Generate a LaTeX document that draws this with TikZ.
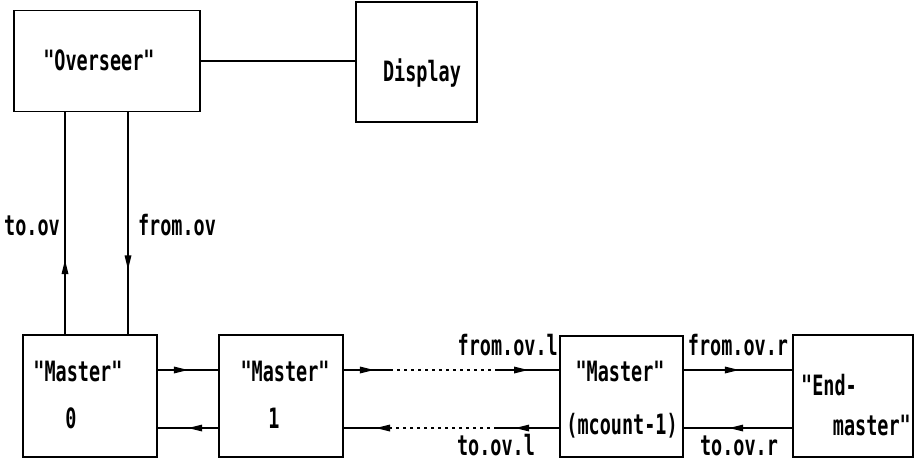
\documentclass[tikz,border=0pt]{standalone}
\usepackage{fontspec}
\newfontfamily\plotfont[FakeStretch=0.66]{DejaVu Sans Mono Bold}
\usetikzlibrary{decorations.markings}

\tikzset{
  box/.style={draw, line width=1.6pt, inner sep=0pt},
  wire/.style={line width=1.6pt},
  dotwire/.style={line width=1.6pt, dash pattern=on 3pt off 4pt},
  midarrow/.style={postaction={decorate, decoration={markings,
      mark=at position #1 with {\fill (1pt,0pt) -- (-13pt,3.5pt) -- (-13pt,-3.5pt) -- cycle;}}}},
  txt/.style={inner sep=0pt, font=\plotfont\fontsize{28}{32}\selectfont},
}

\begin{document}
\begin{tikzpicture}[x=1pt, y=-1pt]
  \useasboundingbox (0,0) rectangle (920,467);

  % boxes
  \node[box, minimum width=186pt, minimum height=101pt] (ov)   at (107,61) {};
  \node[box, minimum width=121pt, minimum height=120pt] (disp) at (416.5,62) {};
  \node[box, minimum width=134pt, minimum height=122pt] (m0)   at (90,396) {};
  \node[box, minimum width=124pt, minimum height=122pt] (m1)   at (281,396) {};
  \node[box, minimum width=123pt, minimum height=121pt] (mc)   at (621.5,396.5) {};
  \node[box, minimum width=120pt, minimum height=122pt] (end)  at (853,396) {};

  % texts
  \node[txt, anchor=base] (tov)   at (99,70)   {"Overseer"};
  \node[txt, anchor=base] (tdisp) at (422,81)  {Display};
  \node[txt, anchor=base] (lto)   at (32,235)  {to.ov};
  \node[txt, anchor=base] (lfrom) at (177,235) {from.ov};
  \node[txt, anchor=base] (t0a)   at (78,381)  {"Master"};
  \node[txt, anchor=base] (t0b)   at (71,428)  {0};
  \node[txt, anchor=base] (t1a)   at (285,381) {"Master"};
  \node[txt, anchor=base] (t1b)   at (274,428) {1};
  \node[txt, anchor=base] (tca)   at (620,381) {"Master"};
  \node[txt, anchor=base] (tcb)   at (622,434) {(mcount-1)};
  \node[txt, anchor=base west] (tea) at (801,395) {"End-};
  \node[txt, anchor=base east] (teb) at (911,435) {master"};
  \node[txt, anchor=base east] (lfl) at (558,355) {from.ov.l};
  \node[txt, anchor=base] (ltl)   at (496,455) {to.ov.l};
  \node[txt, anchor=base] (lfr)   at (738,355) {from.ov.r};
  \node[txt, anchor=base] (ltr)   at (739,455) {to.ov.r};

  % reference coordinates for the wires
  \coordinate (xa) at (65,0);
  \coordinate (xb) at (128,0);
  \coordinate (yu) at (0,370);
  \coordinate (yl) at (0,428);
  \coordinate (c1) at (390,370);
  \coordinate (c2) at (497,370);
  \coordinate (c3) at (388,428);
  \coordinate (c4) at (497,428);

  % overseer to display
  \draw[wire] (ov.east) -- (ov.east -| disp.west);

  % overseer <-> master 0
  \draw[wire, midarrow=73pt]  (xa |- m0.north) -- (xa |- ov.south);
  \draw[wire, midarrow=156pt] (xb |- ov.south) -- (xb |- m0.north);

  % master 0 <-> master 1
  \draw[wire, midarrow=29pt] (m0.east |- yu) -- (m1.west |- yu);
  \draw[wire, midarrow=29pt] (m1.west |- yl) -- (m0.east |- yl);

  % master 1 <-> master (mcount-1)
  \draw[wire, midarrow=29pt] (m1.east |- yu) -- (c1);
  \draw[dotwire] (c1) -- (c2);
  \draw[wire, midarrow=30pt] (c2) -- (mc.west |- yu);
  \draw[wire, midarrow=43pt] (mc.west |- yl) -- (c4);
  \draw[dotwire] (c4) -- (c3);
  \draw[wire, midarrow=11pt] (c3) -- (m1.east |- yl);

  % master (mcount-1) <-> end-master
  \draw[wire, midarrow=54pt] (mc.east |- yu) -- (end.west |- yu);
  \draw[wire, midarrow=62pt] (end.west |- yl) -- (mc.east |- yl);
\end{tikzpicture}
\end{document}
